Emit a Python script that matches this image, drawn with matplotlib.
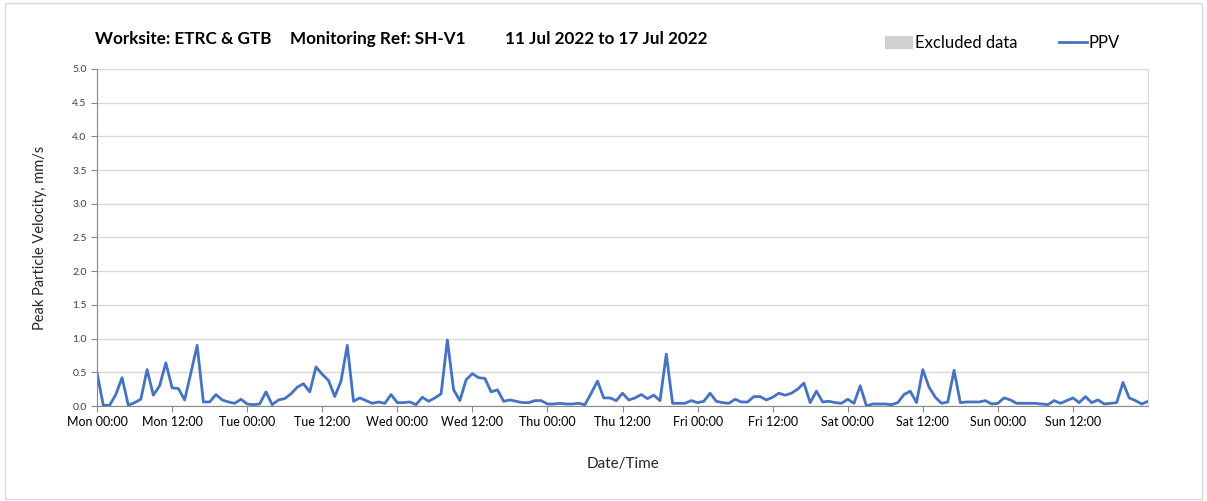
import numpy as np
import pandas as pd
import matplotlib
matplotlib.use("Agg")
import matplotlib.pyplot as plt
import matplotlib.dates as mdates
from matplotlib.patches import Patch, Rectangle
from matplotlib.lines import Line2D

plt.rcParams['font.family'] = ['Lato', 'DejaVu Sans']

# hourly PPV readings, Mon 11 Jul 00:00 -> Mon 18 Jul 00:00
ppv_mon = [0.49, 0.01, 0.01, 0.17, 0.42, 0.01, 0.05, 0.10, 0.54, 0.16, 0.30, 0.64,
           0.27, 0.26, 0.09, 0.49, 0.90, 0.06, 0.06, 0.17, 0.09, 0.06, 0.04, 0.10]
ppv_tue = [0.03, 0.02, 0.03, 0.21, 0.02, 0.09, 0.11, 0.18, 0.28, 0.33, 0.21, 0.58,
           0.47, 0.38, 0.14, 0.37, 0.90, 0.07, 0.12, 0.08, 0.04, 0.06, 0.04, 0.17]
ppv_wed = [0.05, 0.05, 0.06, 0.02, 0.13, 0.07, 0.12, 0.18, 0.98, 0.24, 0.08, 0.39,
           0.48, 0.42, 0.41, 0.21, 0.24, 0.07, 0.09, 0.07, 0.05, 0.05, 0.08, 0.08]
ppv_thu = [0.03, 0.03, 0.04, 0.03, 0.03, 0.04, 0.02, 0.19, 0.37, 0.12, 0.12, 0.08,
           0.19, 0.09, 0.12, 0.17, 0.11, 0.16, 0.08, 0.77, 0.04, 0.04, 0.04, 0.08]
ppv_fri = [0.05, 0.07, 0.19, 0.07, 0.05, 0.04, 0.10, 0.06, 0.06, 0.14, 0.14, 0.09,
           0.13, 0.19, 0.16, 0.19, 0.25, 0.34, 0.05, 0.22, 0.06, 0.07, 0.05, 0.04]
ppv_sat = [0.10, 0.04, 0.30, 0.00, 0.03, 0.03, 0.03, 0.02, 0.05, 0.17, 0.22, 0.05,
           0.54, 0.28, 0.13, 0.04, 0.06, 0.53, 0.05, 0.06, 0.06, 0.06, 0.08, 0.03]
ppv_sun = [0.04, 0.12, 0.09, 0.04, 0.04, 0.04, 0.04, 0.03, 0.02, 0.08, 0.04, 0.08,
           0.12, 0.05, 0.14, 0.05, 0.09, 0.03, 0.04, 0.05, 0.35, 0.12, 0.08, 0.03]
ppv_end = [0.07]

ppv = ppv_mon + ppv_tue + ppv_wed + ppv_thu + ppv_fri + ppv_sat + ppv_sun + ppv_end
times = pd.date_range("2022-07-11 00:00", periods=len(ppv), freq="h")

title_parts = [("Worksite: ETRC & GTB", 95), ("Monitoring Ref: SH-V1", 290),
               ("11 Jul 2022 to 17 Jul 2022", 505)]

fig = plt.figure(figsize=(12.07, 5.01), dpi=100)
fig.patches.append(Rectangle((0.004, 0.004), 0.992, 0.99, transform=fig.transFigure,
                             fill=False, edgecolor="#d9d9d9", linewidth=1))
ax = fig.add_axes([0.0804, 0.1896, 0.8707, 0.6727])

ax.plot(times, ppv, color="#4472C4", linewidth=2.0)

ax.set_xlim(pd.Timestamp("2022-07-11 00:00"), pd.Timestamp("2022-07-18 00:00"))
ax.set_ylim(0, 5)
ax.set_yticks(np.arange(0, 5.01, 0.5))
ax.yaxis.set_major_formatter(matplotlib.ticker.FormatStrFormatter("%.1f"))

ax.xaxis.set_major_locator(mdates.HourLocator(byhour=[0, 12]))
ax.xaxis.set_major_formatter(mdates.DateFormatter("%a %H:%M"))
ax.xaxis.set_minor_locator(mdates.DayLocator())
ax.set_xticks([t for t in ax.get_xticks() if t < mdates.date2num(pd.Timestamp("2022-07-18"))])

ax.grid(axis="y", which="major", color="#d9d9d9", linewidth=1)
ax.grid(axis="x", which="minor", color="#d9d9d9", linewidth=1)
ax.set_axisbelow(True)
ax.tick_params(axis="x", which="major", length=4, color="#888888", labelsize=9, pad=3)
ax.tick_params(axis="x", which="minor", length=0)
ax.tick_params(axis="y", length=4, color="#888888", labelsize=7.5, labelcolor="#404040")

for side in ["left", "bottom"]:
    ax.spines[side].set_color("#888888")
ax.spines["right"].set_color("#d9d9d9")
ax.spines["top"].set_visible(False)

ax.set_ylabel("Peak Particle Velocity, mm/s", fontsize=10.5, color="#262626", labelpad=18)
ax.set_xlabel("Date/Time", fontsize=11, color="#262626", labelpad=21)

for txt, px in title_parts:
    fig.text(px / 1207, 1 - 39 / 501, txt, fontsize=12.3, fontweight="bold",
             ha="left", va="center", color="black")

handles = [Patch(facecolor="#d0d0d0", edgecolor="none"),
           Line2D([0], [0], color="#4472C4", linewidth=2.0)]
fig.legend(handles, ["Excluded data", "PPV"], loc="center right",
           bbox_to_anchor=(1135 / 1207, 1 - 43 / 501), ncol=2, frameon=False,
           fontsize=12, handlelength=1.7, handletextpad=0.1, columnspacing=2.5,
           handleheight=0.8)

fig.savefig("out.png", dpi=100)
